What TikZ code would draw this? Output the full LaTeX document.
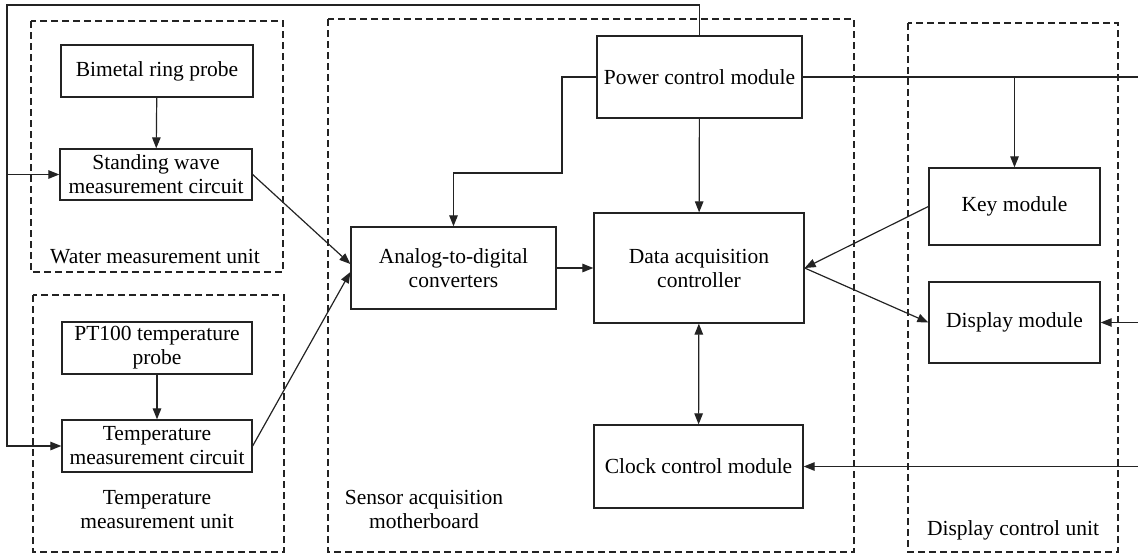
\documentclass[tikz,border=0pt]{standalone}
\usepackage{fontspec}
\setmainfont{Liberation Serif}
\usetikzlibrary{arrows.meta,positioning}
\definecolor{lineas}{RGB}{35,35,35}

\begin{document}
\begin{tikzpicture}[x=1pt,y=-1pt,
  bloque/.style={draw=lineas, line width=1.3pt, align=center, inner sep=2pt,
                 font=\fontsize{21.5}{24}\selectfont},
  grupo/.style={draw=lineas, line width=1.2pt, dash pattern=on 7pt off 4pt},
  etiq/.style={align=center, font=\fontsize{21.5}{24}\selectfont},
  flecha/.style={draw=lineas, line width=1.2pt, -{Triangle[length=11pt,width=8.5pt]}},
  linea/.style={draw=lineas, line width=1.2pt}]
\useasboundingbox (0,0) rectangle (1138,554);

% unidades (recuadros punteados)
\draw[grupo] (31,21) rectangle (283,272);
\draw[grupo] (33,295) rectangle (284,552);
\draw[grupo] (328,19) rectangle (854,552);
\draw[grupo] (908,23) rectangle (1118,552);
\node[etiq] (lagua) at (155,257) {Water measurement unit};
\node[etiq] (ltemp) at (157,510) {Temperature\\measurement unit};
\node[etiq] (lsens) at (424,509) {Sensor acquisition\\motherboard};
\node[etiq] (ldisp) at (1013,530) {Display control unit};

% modulos
\node[bloque, minimum width=192pt, minimum height=52pt] (bim) at (157,71) {Bimetal ring probe};
\node[bloque, minimum width=192pt, minimum height=51pt] (onda) at (156,174.5) {Standing wave\\measurement circuit};
\node[bloque, minimum width=190pt, minimum height=52pt] (pt) at (157,348) {PT100 temperature\\probe};
\node[bloque, minimum width=190pt, minimum height=52pt] (tcir) at (157,446) {Temperature\\measurement circuit};
\node[bloque, minimum width=205pt, minimum height=82pt] (adc) at (453.5,268) {Analog-to-digital\\converters};
\node[bloque, minimum width=205pt, minimum height=82pt] (pot) at (699.5,77) {Power control module};
\node[bloque, minimum width=210pt, minimum height=110pt] (dac) at (699,268) {Data acquisition\\controller};
\node[bloque, minimum width=209pt, minimum height=83pt] (rel) at (698.5,466.5) {Clock control module};
\node[bloque, minimum width=171pt, minimum height=77pt] (tec) at (1014.5,206.5) {Key module};
\node[bloque, minimum width=171pt, minimum height=81pt] (pan) at (1014.5,322.5) {Display module};

\coordinate (lazo) at (7,5);
\coordinate (der) at (1138,77);
\coordinate (derpan) at (1138,322.5);
\coordinate (derrel) at (1138,466.5);
\coordinate (codo) at (562,173);

% conexiones
\draw[flecha] (bim) -- (onda);
\draw[flecha] (pt) -- (tcir);
\draw[flecha] (pot.north) |- (lazo) |- (tcir.west);
\draw[flecha] (lazo |- onda.west) -- (onda.west);
\draw[flecha] (onda.east) -- ([yshift=4pt]adc.west);
\draw[flecha] (tcir.east) -- ([yshift=-4pt]adc.west);
\draw[flecha] (pot.west) -| (codo) -| (adc.north);
\draw[flecha] (pot) -- (dac);
\draw[flecha] (adc) -- (dac);
\draw[flecha, {Triangle[length=11pt,width=8.5pt]}-{Triangle[length=11pt,width=8.5pt]}] (dac) -- (rel);
\draw[linea, line width=1.8pt] (pot.east) -- (der);
\draw[flecha] (tec.north |- der) -- (tec.north);
\draw[flecha] (tec.west) -- (dac.east);
\draw[flecha] (dac.east) -- (pan.west);
\draw[flecha] (derpan) -- (pan.east);
\draw[flecha] (derrel) -- (rel.east);
\end{tikzpicture}
\end{document}
